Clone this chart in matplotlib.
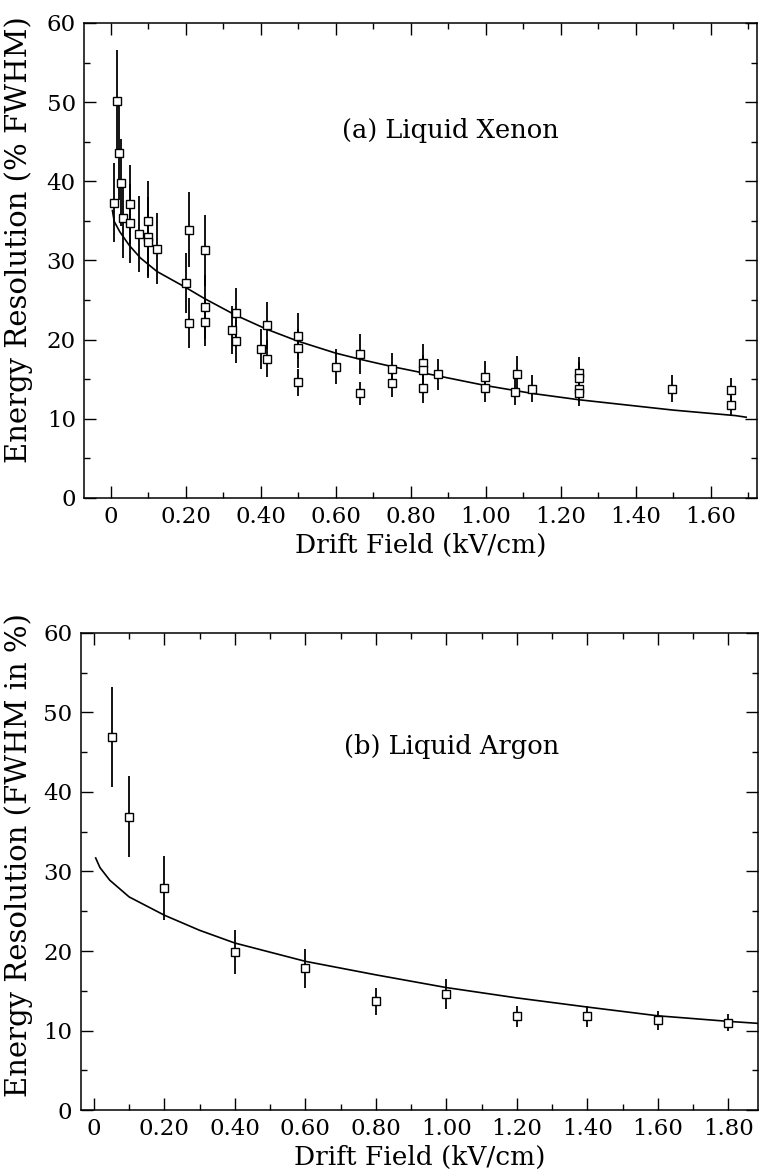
import numpy as np
import matplotlib
matplotlib.use("Agg")
import matplotlib.pyplot as plt
from matplotlib.ticker import MultipleLocator, FuncFormatter

# Liquid xenon: drift field (kV/cm), resolution (% FWHM), error
xe_field = [0.010, 0.017, 0.023, 0.028, 0.034, 0.052, 0.053, 0.076, 0.101, 0.100, 0.100,
            0.125, 0.201, 0.210, 0.210, 0.251, 0.251, 0.251, 0.324, 0.334, 0.334, 0.400,
            0.418, 0.418, 0.501, 0.501, 0.501, 0.601, 0.665, 0.665, 0.750, 0.750, 0.832,
            0.832, 0.832, 0.874, 0.998, 0.998, 1.083, 1.079, 1.124, 1.250, 1.250, 1.250,
            1.250, 1.498, 1.655, 1.655]
xe_res = [37.3, 50.1, 43.6, 39.8, 35.3, 37.1, 34.7, 33.3, 35.0, 33.0, 32.3,
          31.5, 27.1, 33.9, 22.1, 31.3, 24.1, 22.2, 21.2, 23.3, 19.8, 18.8,
          21.8, 17.6, 20.4, 18.9, 14.6, 16.6, 18.2, 13.2, 16.3, 14.5, 17.1,
          16.1, 13.9, 15.6, 15.3, 13.9, 15.6, 13.4, 13.8, 15.8, 15.2, 13.8,
          13.2, 13.8, 13.6, 11.7]
xe_err = [5.0, 6.5, 6.0, 5.5, 5.0, 5.0, 5.0, 4.8, 5.0, 5.0, 4.5,
          4.5, 3.8, 4.7, 3.2, 4.5, 4.0, 3.0, 3.0, 3.2, 2.7, 2.5,
          3.0, 2.3, 2.9, 2.5, 1.7, 2.2, 2.5, 1.5, 2.0, 1.7, 2.3,
          2.0, 1.9, 2.0, 2.0, 1.8, 2.3, 1.7, 1.7, 2.0, 2.0, 1.7,
          1.6, 1.7, 1.6, 1.2]
xe_fit_x = [0.005, 0.010, 0.025, 0.050, 0.080, 0.124, 0.200, 0.250, 0.333, 0.417, 0.500,
            0.600, 0.667, 0.750, 0.833, 0.875, 1.000, 1.125, 1.250, 1.500, 1.667, 1.695]
xe_fit_y = [36.3, 34.9, 33.6, 31.9, 30.3, 28.6, 26.6, 25.2, 23.1, 21.3, 19.8,
            18.3, 17.5, 16.6, 15.8, 15.4, 14.2, 13.2, 12.4, 11.1, 10.4, 10.2]

# Liquid argon
ar_field = [0.05, 0.1, 0.2, 0.4, 0.6, 0.8, 1.0, 1.2, 1.4, 1.6, 1.8]
ar_res = [46.9, 36.9, 27.9, 19.9, 17.8, 13.7, 14.6, 11.8, 11.8, 11.3, 11.0]
ar_err = [6.3, 5.1, 4.0, 2.75, 2.4, 1.7, 1.9, 1.3, 1.3, 1.2, 1.1]
ar_fit_x = [0.005, 0.017, 0.045, 0.1, 0.2, 0.3, 0.4, 0.6, 0.8, 1.0, 1.2, 1.4, 1.6, 1.8, 1.884]
ar_fit_y = [31.7, 30.5, 28.9, 26.8, 24.5, 22.6, 21.0, 18.7, 17.0, 15.4, 14.1, 12.95, 11.85, 11.15, 10.9]

plt.rcParams['font.family'] = ['DejaVu Serif']


def xfmt(v, pos):
    if abs(v) < 1e-9:
        return '0'
    return '%.2f' % v


def style_axes(ax):
    ax.set_ylim(0, 60)
    ax.xaxis.set_major_locator(MultipleLocator(0.2))
    ax.xaxis.set_minor_locator(MultipleLocator(0.1))
    ax.yaxis.set_major_locator(MultipleLocator(10))
    ax.yaxis.set_minor_locator(MultipleLocator(5))
    ax.xaxis.set_major_formatter(FuncFormatter(xfmt))
    ax.tick_params(which='both', direction='in', top=True, right=True, width=1.0,
                   labelsize=16.5, pad=6)
    ax.tick_params(which='major', length=8.5)
    ax.tick_params(which='minor', length=4.5)
    for s in ax.spines.values():
        s.set_linewidth(1.1)
    ax.set_xlabel('Drift Field (kV/cm)', fontsize=19, labelpad=3)


def draw(ax, x, y, e, fx, fy):
    ax.errorbar(x, y, yerr=e, fmt='s', ms=6, mfc='white', mec='black', mew=1.0,
                ecolor='black', elinewidth=1.3, capsize=0, zorder=3)
    ax.plot(fx, fy, color='black', lw=1.2, zorder=2)


fig = plt.figure(figsize=(7.59, 11.75), dpi=100)

ax1 = fig.add_axes([0.1107, 0.5762, 0.8867, 0.4043])
draw(ax1, xe_field, xe_res, xe_err, xe_fit_x, xe_fit_y)
ax1.set_xlim(-0.0707, 1.724)
style_axes(ax1)
ax1.set_ylabel('Energy Resolution (% FWHM)', fontsize=21)
ax1.yaxis.set_label_coords(-0.0758, 0.543)
ax1.text(0.544, 0.773, '(a) Liquid Xenon', transform=ax1.transAxes,
         ha='center', va='center', fontsize=18.5)

ax2 = fig.add_axes([0.1061, 0.0553, 0.8926, 0.406])
draw(ax2, ar_field, ar_res, ar_err, ar_fit_x, ar_fit_y)
ax2.set_xlim(-0.038, 1.884)
style_axes(ax2)
ax2.set_ylabel('Energy Resolution (FWHM in %)', fontsize=21)
ax2.yaxis.set_label_coords(-0.070, 0.535)
ax2.text(0.548, 0.761, '(b) Liquid Argon', transform=ax2.transAxes,
         ha='center', va='center', fontsize=18.5)

fig.savefig('out.png', dpi=100)
